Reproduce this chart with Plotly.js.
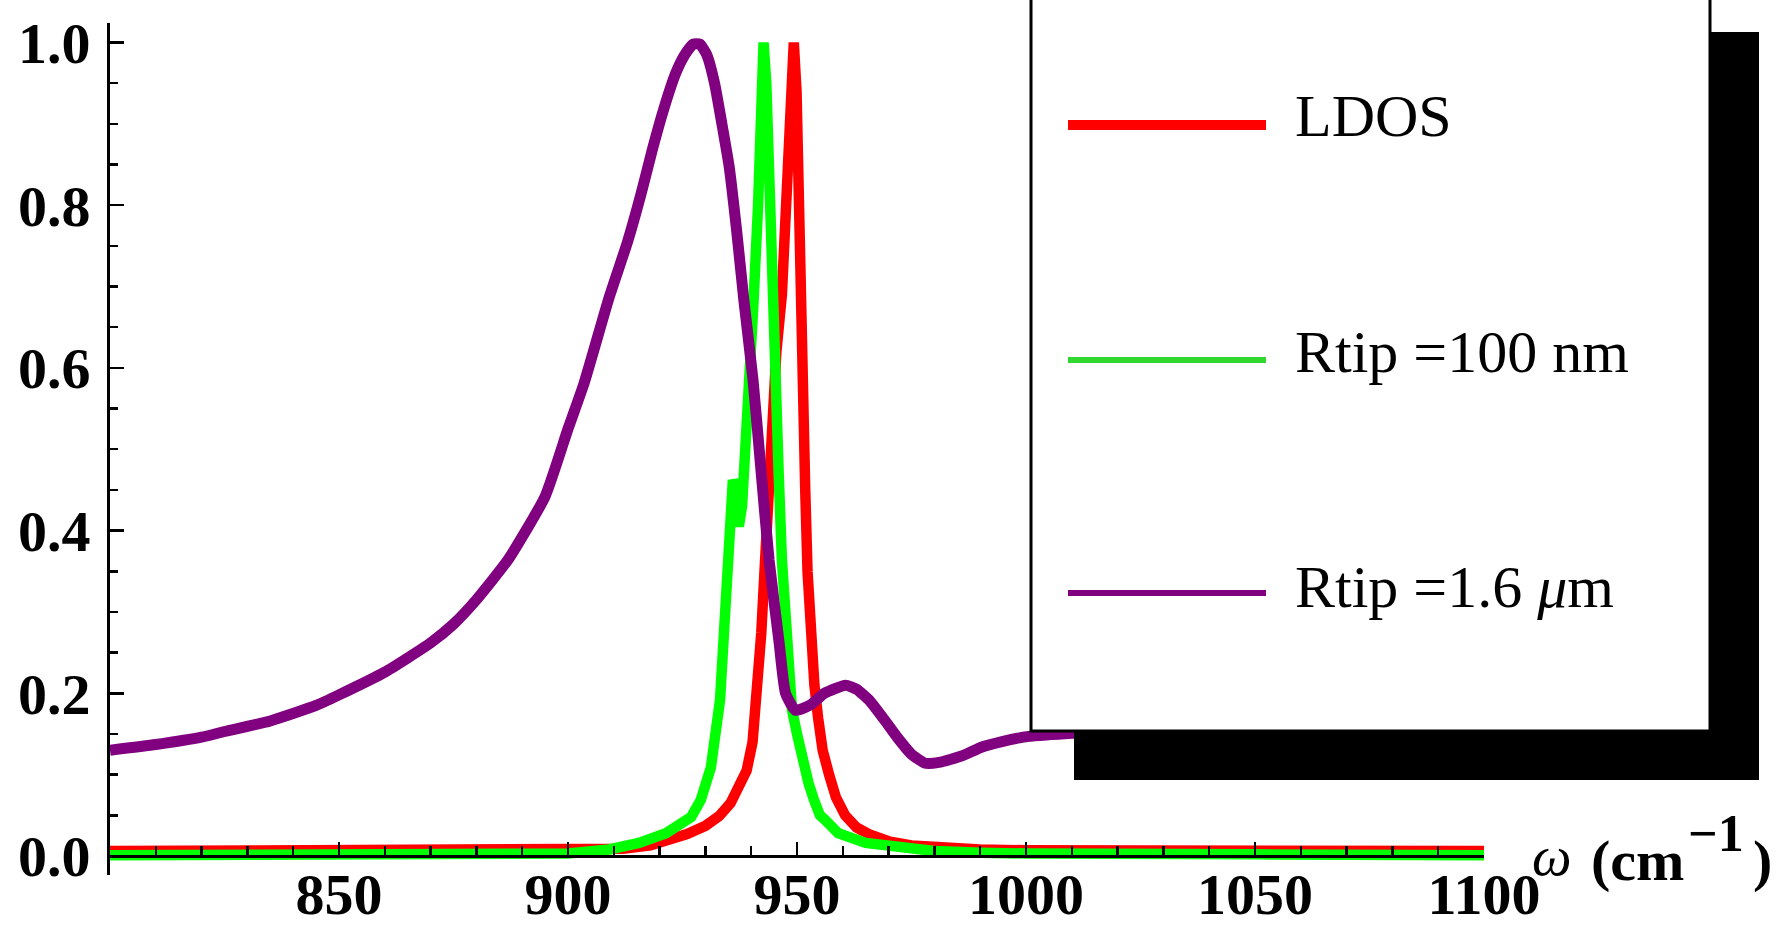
<!DOCTYPE html>
<html>
<head>
<meta charset="utf-8">
<script src="https://cdn.plot.ly/plotly-3.0.1.min.js"></script>
<style>html,body{margin:0;padding:0;background:#fff;}#chart{width:1776px;height:927px;}</style>
</head>
<body>
<div id="chart"></div>
<script>
// ---- data ----
const xLDOS = [800,850,890,905,912,918,922,926,930,933,935.5,937.5,939,940.3,941.2,942.2,943,943.8,944.5,945.5,946.7,947.8,948.7,949.3,949.9,950.5,951.2,951.8,952.3,953,953.8,954.6,955.6,957,958.5,960.5,963,966,970,975,982,990,1000,1050,1100];
const yLDOS = [0.006,0.006,0.006,0.007,0.009,0.013,0.019,0.027,0.037,0.049,0.065,0.085,0.105,0.14,0.2,0.274,0.36,0.45,0.54,0.62,0.69,0.82,0.94,1.0,0.94,0.72,0.59,0.45,0.35,0.27,0.21,0.17,0.13,0.1,0.072,0.05,0.035,0.026,0.018,0.013,0.01,0.008,0.007,0.006,0.006];

const xR100 = [800,850,890,900,909,915.5,921.4,925,926.9,929,931.2,933.2,934.5,935.5,936.0,936.5,937.3,938,939,939.7,940.5,941.5,942.3,942.7,943.3,944,944.5,945.4,946,946.7,947.4,947.8,948.9,950,951.2,952.5,953.7,955,956,959,965,972,980,990,1000,1050,1100];
const yR100 = [0.001,0.001,0.002,0.003,0.008,0.016,0.028,0.04,0.048,0.069,0.109,0.192,0.315,0.42,0.462,0.455,0.405,0.43,0.52,0.6,0.68,0.8,0.95,1.0,0.95,0.8,0.683,0.585,0.47,0.364,0.3,0.25,0.18,0.15,0.115,0.09,0.069,0.05,0.045,0.028,0.016,0.01,0.006,0.004,0.003,0.002,0.001];

const xR16 = [800,810,820,825,835,845,850,860,870,875,880,887,895,900,903.5,909,913,916,918.4,921,923.5,925.5,927.3,928.8,930.3,932,933.6,935.2,936.8,938.4,940.4,942.2,943.9,946.1,947.5,949.7,953,956,960.6,963,966,969,972,975,978,981,986,990.4,995,1000.6,1005,1010,1050,1100];
const yR16 = [0.13,0.137,0.146,0.153,0.166,0.185,0.198,0.226,0.262,0.285,0.315,0.365,0.442,0.525,0.581,0.687,0.755,0.815,0.868,0.92,0.962,0.985,0.998,0.998,0.985,0.95,0.9,0.847,0.77,0.683,0.585,0.47,0.364,0.262,0.2,0.179,0.186,0.2,0.21,0.205,0.19,0.168,0.145,0.125,0.114,0.115,0.123,0.134,0.141,0.147,0.149,0.151,0.155,0.158];

const names = ['LDOS', 'Rtip =100 nm', 'Rtip =1.6 <i>μ</i>m'];
const colors = ['#ff0000', '#00ff00', '#800080'];
const xTicks = [850, 900, 950, 1000, 1050, 1100];
const xTickText = ['850', '900', '950', '1000', '1050', '1100'];
const yTicks = [0, 0.2, 0.4, 0.6, 0.8, 1.0];
const yTickText = ['0.0', '0.2', '0.4', '0.6', '0.8', '1.0'];

// ---- layout helpers (pixel -> paper) ----
const W = 1776, H = 927;
const M = {l: 110, r: 292, t: 23, b: 52};
const PW = W - M.l - M.r, PH = H - M.t - M.b;
const px = X => (X - M.l) / PW;
const py = Y => (H - M.b - Y) / PH;
const yRange = [-0.0234, 1.024];
const xAxisPos = (0 - yRange[0]) / (yRange[1] - yRange[0]);

const serif = 'Liberation Serif, Times New Roman, serif';

const traces = [
  {x: xLDOS, y: yLDOS, name: names[0], mode: 'lines', line: {color: colors[0], width: 10.5}},
  {x: xR100, y: yR100, name: names[1], mode: 'lines', line: {color: colors[1], width: 10.5}},
  {x: xR16, y: yR16, name: names[2], mode: 'lines', line: {color: colors[2], width: 11, shape: 'spline', smoothing: 0.5}}
];

const shapes = [
  // legend shadow
  {type: 'rect', xref: 'paper', yref: 'paper', x0: px(1074), x1: px(1759), y0: py(780), y1: py(32), fillcolor: '#000', line: {width: 0}, layer: 'above'},
  // legend box
  {type: 'rect', xref: 'paper', yref: 'paper', x0: px(1031), x1: px(1710), y0: py(731), y1: py(-20), fillcolor: '#fff', line: {color: '#000', width: 3}, layer: 'above'},
  // legend samples
  {type: 'line', xref: 'paper', yref: 'paper', x0: px(1068), x1: px(1266), y0: py(125), y1: py(125), line: {color: colors[0], width: 10}, layer: 'above'},
  {type: 'line', xref: 'paper', yref: 'paper', x0: px(1068), x1: px(1266), y0: py(360), y1: py(360), line: {color: '#30d830', width: 6}, layer: 'above'},
  {type: 'line', xref: 'paper', yref: 'paper', x0: px(1068), x1: px(1266), y0: py(593), y1: py(593), line: {color: colors[2], width: 6}, layer: 'above'}
];

function ann(text, X, Y, size, extra) {
  return Object.assign({text: text, xref: 'paper', yref: 'paper', x: px(X), y: py(Y), xanchor: 'left', yanchor: 'middle', showarrow: false,
    font: {family: serif, size: size, color: '#000'}}, extra || {});
}

const annotations = [
  ann(names[0], 1293, 116, 60),
  ann(names[1], 1293, 352, 60),
  ann(names[2], 1293, 587, 60),
  ann('<i>ω</i>', 1530, 856, 56),
  ann('<b>(cm</b>', 1589, 860, 58),
  ann('<b>−1</b>', 1686, 833, 52),
  ann('<b>)</b>', 1751, 860, 58)
];

const tickFont = {family: serif, size: 58, color: '#000', weight: 'bold'};

const layout = {
  width: W, height: H,
  margin: M,
  paper_bgcolor: '#fff', plot_bgcolor: '#fff',
  showlegend: false,
  xaxis: {
    range: [800, 1100], anchor: 'free', position: xAxisPos,
    showline: true, linecolor: '#000', linewidth: 3,
    ticks: 'inside', ticklen: 13, tickwidth: 2.5, tickcolor: '#000',
    tickmode: 'array', tickvals: xTicks, ticktext: xTickText,
    tickfont: tickFont, ticklabelstandoff: -14,
    showgrid: false, zeroline: false,
    minor: {ticks: 'inside', ticklen: 9, tickwidth: 2.5, tickcolor: '#000', dtick: 10, tick0: 800, showgrid: false}
  },
  yaxis: {
    range: yRange,
    showline: true, linecolor: '#000', linewidth: 3,
    ticks: 'inside', ticklen: 14, tickwidth: 2.5, tickcolor: '#000',
    tickmode: 'array', tickvals: yTicks, ticktext: yTickText,
    tickfont: tickFont, ticklabelstandoff: 5,
    showgrid: false, zeroline: false,
    minor: {ticks: 'inside', ticklen: 8, tickwidth: 2.5, tickcolor: '#000', dtick: 0.05, tick0: 0, showgrid: false}
  },
  shapes: shapes,
  annotations: annotations
};

Plotly.newPlot('chart', traces, layout, {displayModeBar: false, staticPlot: true});
</script>
</body>
</html>
